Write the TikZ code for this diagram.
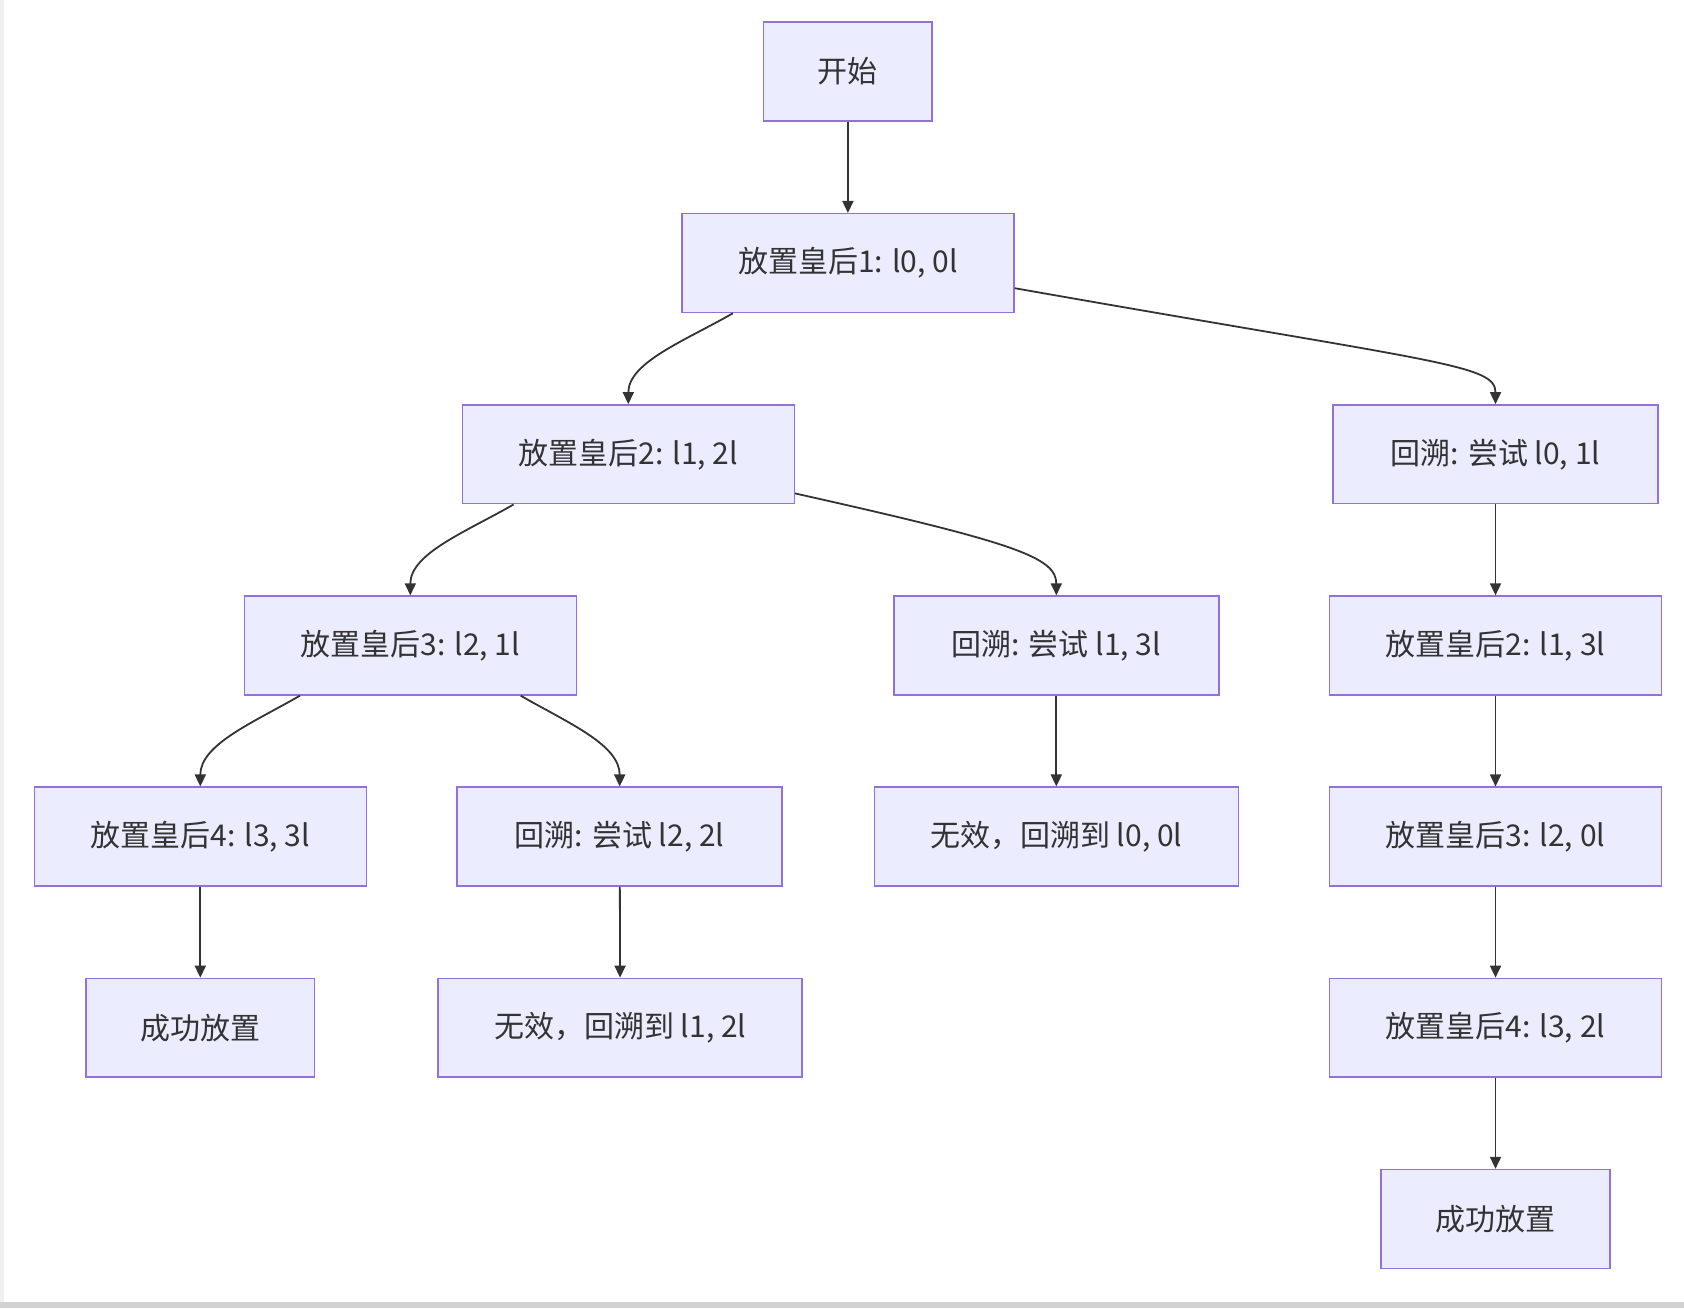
\documentclass[tikz,border=0pt]{standalone}
\usepackage{fontspec}
\setmainfont{Noto Sans CJK SC}
\usepackage{xcolor}
\usepackage{tikz}
\usetikzlibrary{arrows.meta, calc}

\definecolor{boxfill}{HTML}{ECECFF}
\definecolor{boxline}{HTML}{9370DB}
\definecolor{inkgray}{HTML}{333333}

\tikzset{
  flowbox/.style={draw=boxline, fill=boxfill, line width=0.75pt, text=inkgray,
    font=\fontsize{15pt}{17pt}\selectfont, minimum height=49.4pt, inner sep=0pt},
  startbox/.style={flowbox, minimum width=84.3pt},
  queenbox/.style={flowbox, minimum width=166pt},
  backbox/.style={flowbox, minimum width=162.5pt},
  badbox/.style={flowbox, minimum width=182pt},
  okbox/.style={flowbox, minimum width=114.4pt},
  link/.style={draw=inkgray, line width=0.9pt, -{Triangle[length=6pt,width=5.5pt]}},
  bendleft/.style={out=210, in=90, out distance=27pt, in distance=21pt},
  bendright/.style={out=-30, in=90, out distance=27pt, in distance=21pt}
}

\begin{document}
\begin{tikzpicture}[x=0.5pt, y=-0.5pt]
        \useasboundingbox (0,0) rectangle (1684,1308);
        % page edges
        \fill[gray!12] (0,0) rectangle (4,1302);
        \fill[gray!35] (0,1302) rectangle (1684,1308);

        % first steps
        \node[startbox] (start) at (847.9, 71.4) {开始};
        \node[queenbox] (q1) at (847.9, 263.1) {放置皇后1: l0, 0l};
        \node[queenbox] (q2) at (628.3, 454.3) {放置皇后2: l1, 2l};
        \node[backbox] (bt01) at (1495.5, 454.3) {回溯: 尝试 l0, 1l};
        \node[queenbox] (q3) at (410.3, 645.5) {放置皇后3: l2, 1l};
        \node[backbox] (bt13) at (1056.3, 645.5) {回溯: 尝试 l1, 3l};
        \node[queenbox] (q2b) at (1495.5, 645.5) {放置皇后2: l1, 3l};
        \node[queenbox] (q4) at (200.3, 836.6) {放置皇后4: l3, 3l};
        \node[backbox] (bt22) at (619.7, 836.6) {回溯: 尝试 l2, 2l};
        \node[badbox] (bad00) at (1056.3, 836.6) {无效，回溯到 l0, 0l};
        \node[queenbox] (q3b) at (1495.5, 836.6) {放置皇后3: l2, 0l};
        \node[okbox] (ok1) at (200.3, 1027.8) {成功放置};
        \node[badbox] (bad12) at (620.2, 1027.8) {无效，回溯到 l1, 2l};
        \node[queenbox] (q4b) at (1495.5, 1027.8) {放置皇后4: l3, 2l};
        \node[okbox] (ok2) at (1495.5, 1219) {成功放置};

        % straight links
        \draw[link] (start) -- (q1);
        \draw[link] (bt01) -- (q2b);
        \draw[link] (q2b) -- (q3b);
        \draw[link] (q3b) -- (q4b);
        \draw[link] (q4b) -- (ok2);
        \draw[link] (bt13) -- (bad00);
        \draw[link] (q4) -- (ok1);
        \draw[link] (bt22) -- (bad12);

        % curved links
        \draw[link] ($(q1.south west)!0.155!(q1.south east)$) to[bendleft] (q2.north);
        \draw[link] ($(q2.south west)!0.156!(q2.south east)$) to[bendleft] (q3.north);
        \draw[link] ($(q3.south west)!0.169!(q3.south east)$) to[bendleft] (q4.north);
        \draw[link] ($(q3.south west)!0.831!(q3.south east)$) to[bendright] (bt22.north);
        \draw[link] ($(q1.north east)!0.75!(q1.south east)$)
            to[out=-10, in=90, out distance=216pt, in distance=20pt] (bt01.north);
        \draw[link] ($(q2.north east)!0.89!(q2.south east)$)
            to[out=-12.6, in=90, out distance=113pt, in distance=19pt] (bt13.north);
    \end{tikzpicture}
\end{document}
